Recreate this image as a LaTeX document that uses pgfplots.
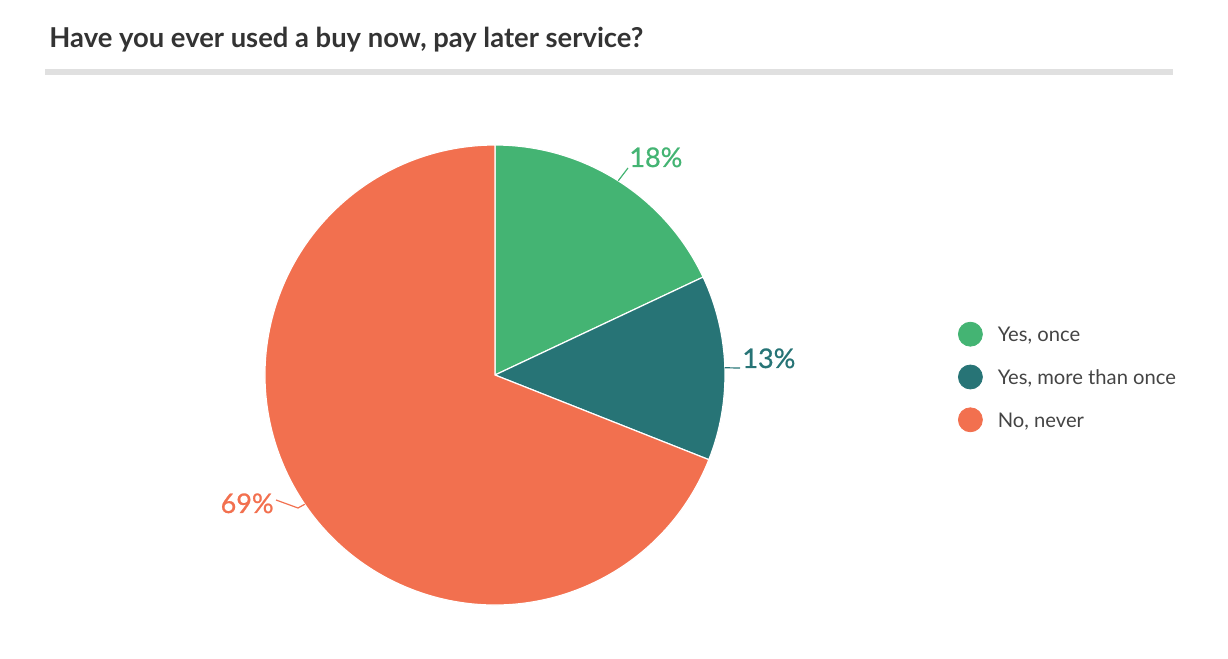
\documentclass[border=0pt]{standalone}
\usepackage{pgfplots}
\pgfplotsset{compat=1.18}
\usepackage{pgfplotstable}
\usepackage{fontspec}
\setmainfont{Lato}
\newfontfamily\labelfont[FakeBold=0.8]{Lato}

\definecolor{sliceGreen}{HTML}{44B473}
\definecolor{sliceTeal}{HTML}{277476}
\definecolor{sliceOrange}{HTML}{F2704F}
\definecolor{titleGray}{HTML}{333333}
\definecolor{ruleGray}{HTML}{E0E0E0}
\definecolor{legendGray}{HTML}{444444}

% shares in percent: Yes once, Yes more than once, No never
\pgfplotstableread{
share
18
13
69
}\piedata

\begin{document}
\begin{tikzpicture}
\pgfplotstablegetelem{0}{share}\of\piedata \let\sA\pgfplotsretval
\pgfplotstablegetelem{1}{share}\of\piedata \let\sB\pgfplotsretval
\pgfplotstablegetelem{2}{share}\of\piedata \let\sC\pgfplotsretval
\pgfmathsetmacro\aA{90}
\pgfmathsetmacro\aB{\aA-3.6*\sA}
\pgfmathsetmacro\aC{\aB-3.6*\sB}
\pgfmathsetmacro\aD{\aC-3.6*\sC}
\pgfmathsetmacro\mA{(\aA+\aB)/2}
\pgfmathsetmacro\mB{(\aB+\aC)/2}
\pgfmathsetmacro\mC{(\aC+\aD)/2}
\begin{axis}[
  x=0.5pt, y=0.5pt,
  xmin=0, xmax=1228, ymin=0, ymax=659,
  hide axis, clip=false,
  legend image code/.code={\fill[#1] (0pt,0pt) circle (6pt);},
  legend cell align=left,
  legend style={draw=none, fill=none, inner sep=0pt, outer sep=0pt,
    at={(axis cs:958,282)}, anchor=west, row sep=9pt,
    font=\fontsize{10.1}{12}\selectfont, text=legendGray,
    nodes={inner sep=0pt, text height=7.4pt, text depth=0pt},
    /tikz/every odd column/.append style={column sep=7.5pt}},
]
\addlegendimage{sliceGreen}
\addlegendentry{Yes, once}
\addlegendimage{sliceTeal}
\addlegendentry{Yes, more than once}
\addlegendimage{sliceOrange}
\addlegendentry{No, never}

% title and rule
\node[anchor=base west, inner sep=0pt, text=titleGray,
  font=\fontsize{13.7}{16}\selectfont\bfseries] at (axis cs:49,611)
  {Have you ever used a buy now, pay later service?};
\draw[ruleGray, line width=3pt] (axis cs:45,587) -- (axis cs:1173,587);

% slices
\fill[sliceGreen, draw=white, line width=0.6pt] (axis cs:495,284) -- ++(\aA:115pt)
  arc[start angle=\aA, end angle=\aB, radius=115pt] -- cycle;
\fill[sliceTeal, draw=white, line width=0.6pt] (axis cs:495,284) -- ++(\aB:115pt)
  arc[start angle=\aB, end angle=\aC, radius=115pt] -- cycle;
\fill[sliceOrange, draw=white, line width=0.6pt] (axis cs:495,284) -- ++(\aC:115pt)
  arc[start angle=\aC, end angle=\aD, radius=115pt] -- cycle;

% labels
\draw[sliceGreen, line width=0.6pt] (axis cs:495,284) ++(\mA:115pt) -- (axis cs:628,491);
\node[anchor=base west, inner sep=0pt, text=sliceGreen, font=\labelfont\fontsize{13.5}{16}\selectfont]
  at (axis cs:629,492) {\sA\%};
\draw[sliceTeal, line width=0.6pt] (axis cs:495,284) ++(\mB:115pt) -- (axis cs:740,291);
\node[anchor=base west, inner sep=0pt, text=sliceTeal, font=\labelfont\fontsize{13.5}{16}\selectfont]
  at (axis cs:742,291) {\sB\%};
\draw[sliceOrange, line width=0.6pt] (axis cs:495,284) ++(\mC:115pt) -- (axis cs:298,151)
  -- (axis cs:276,159);
\node[anchor=base east, inner sep=0pt, text=sliceOrange, font=\labelfont\fontsize{13.5}{16}\selectfont]
  at (axis cs:274,146) {\sC\%};
\end{axis}
\pgfresetboundingbox
\path (0,0) rectangle (614pt,329.5pt);
\end{tikzpicture}
\end{document}
